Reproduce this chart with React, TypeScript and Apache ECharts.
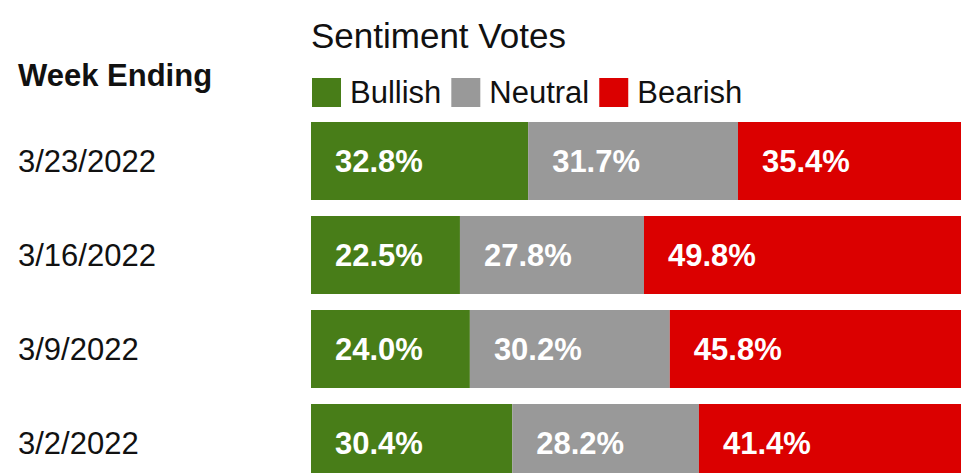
import React, { useEffect, useRef } from "react";
import * as echarts from "echarts";

const categories = ["3/23/2022", "3/16/2022", "3/9/2022", "3/2/2022"];
const bullish = [32.8, 22.5, 24.0, 30.4];
const neutral = [31.7, 27.8, 30.2, 28.2];
const bearish = [35.4, 49.8, 45.8, 41.4];
const seriesNames = ["Bullish", "Neutral", "Bearish"];
const colors = ["#487d18", "#999999", "#db0000"];

const FONT = '"Liberation Sans", Arial, Helvetica, sans-serif';

export default function App() {
  const ref = useRef<HTMLDivElement>(null);
  useEffect(() => {
    document.body.style.overflow = "hidden";
    if (!ref.current) return;
    const chart = echarts.init(ref.current, undefined, { renderer: "svg" });
    const values = [bullish, neutral, bearish];
    chart.setOption({
      animation: false,
      textStyle: { fontFamily: FONT },
      title: [
        {
          text: "Week Ending",
          left: 18,
          top: 60,
          padding: 0,
          textStyle: { fontFamily: FONT, fontSize: 31, fontWeight: "bold", color: "#111", lineHeight: 31 },
        },
        {
          text: "Sentiment Votes",
          left: 311,
          top: 18,
          padding: 0,
          textStyle: { fontFamily: FONT, fontSize: 35, fontWeight: "normal", color: "#111", lineHeight: 35 },
        },
      ],
      legend: {
        data: seriesNames,
        left: 312,
        top: 72,
        padding: 0,
        icon: "rect",
        itemWidth: 29,
        itemHeight: 29,
        itemGap: 10,
        itemStyle: { borderWidth: 0 },
        textStyle: { fontFamily: FONT, fontSize: 31, color: "#111", lineHeight: 31, padding: [0, 0, 10, 4] },
      },
      grid: { left: 311, top: 114, width: 662, height: 376, containLabel: false },
      xAxis: { type: "value", min: 0, max: 100, show: false },
      yAxis: {
        type: "category",
        data: categories,
        inverse: true,
        axisLine: { show: false },
        axisTick: { show: false },
        splitLine: { show: false },
        axisLabel: {
          fontFamily: FONT,
          fontSize: 31,
          color: "#111",
          align: "left",
          margin: 293,
        },
      },
      series: seriesNames.map((name, i) => ({
        name,
        type: "bar",
        stack: "total",
        barWidth: 78,
        data: values[i],
        itemStyle: { color: colors[i] },
        label: {
          show: true,
          position: "insideLeft",
          distance: 24,
          fontFamily: FONT,
          fontSize: 31,
          fontWeight: "bold",
          color: "#fff",
          formatter: (p: any) => `${Number(p.value).toFixed(1)}%`,
        },
      })),
    });
    return () => chart.dispose();
  }, []);
  return (
    <div
      ref={ref}
      style={{ position: "fixed", left: 0, top: 0, width: 1000, height: 520, background: "#fff" }}
    />
  );
}
